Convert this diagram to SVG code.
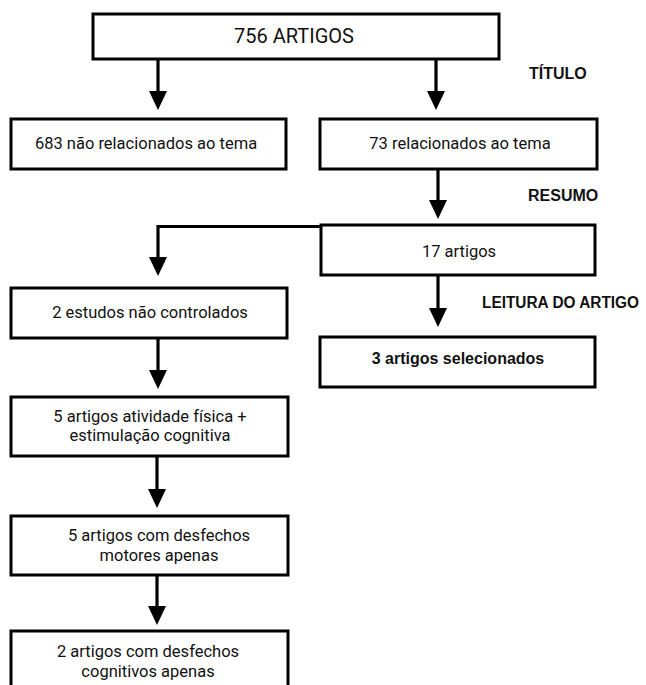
<svg xmlns="http://www.w3.org/2000/svg" width="646" height="685" viewBox="0 0 646 685">
<style>
.box{fill:#fff;stroke:#000;stroke-width:3}
.t{font-family:Roboto,"Liberation Sans",sans-serif;font-size:16.5px;fill:#111;text-anchor:middle}
.big{font-size:20px}
.lbl{font-family:"Liberation Sans",Arial,sans-serif;font-weight:bold;font-size:16px;fill:#111}
.b{font-family:"Liberation Sans",Arial,sans-serif;font-weight:bold;font-size:16px;fill:#111;text-anchor:middle}
.c{fill:none;stroke:#000;stroke-width:3.2}
</style>
<rect width="646" height="685" fill="#fff"/>
<g id="connectors">
<line class="c" x1="158" y1="59" x2="158" y2="91"/>
<path d="M149,91 L167,91 L158,110 Z"/>
<line class="c" x1="436" y1="59" x2="436" y2="91"/>
<path d="M427,91 L445,91 L436,110 Z"/>
<line class="c" x1="438" y1="169" x2="438" y2="200"/>
<path d="M429,200 L447,200 L438,219 Z"/>
<polyline class="c" points="321,226.5 158,226.5 158,258"/>
<path d="M149,257 L167,257 L158,276 Z"/>
<line class="c" x1="438" y1="275" x2="438" y2="308"/>
<path d="M429,308 L447,308 L438,327 Z"/>
<line class="c" x1="158" y1="338" x2="158" y2="371"/>
<path d="M149,370 L167,370 L158,389 Z"/>
<line class="c" x1="157" y1="456" x2="157" y2="490"/>
<path d="M148,489 L166,489 L157,508 Z"/>
<line class="c" x1="157" y1="575" x2="157" y2="607"/>
<path d="M148,606 L166,606 L157,625 Z"/>
</g>
<g id="n756">
<rect class="box" x="93" y="14" width="406" height="45"/>
<text class="t big" x="294" y="43">756 ARTIGOS</text>
</g>
<g id="n683">
<rect class="box" x="11" y="119" width="275" height="50"/>
<text class="t" x="146" y="149">683 não relacionados ao tema</text>
</g>
<g id="n73">
<rect class="box" x="320" y="119" width="277" height="50"/>
<text class="t" x="460" y="149">73 relacionados ao tema</text>
</g>
<g id="n17">
<rect class="box" x="321" y="225" width="274" height="50"/>
<text class="t" x="459" y="257">17 artigos</text>
</g>
<g id="n3sel">
<rect class="box" x="320" y="337" width="275" height="50"/>
<text class="b" x="458" y="364">3 artigos selecionados</text>
</g>
<g id="n2est">
<rect class="box" x="11" y="288" width="276" height="50"/>
<text class="t" x="150" y="318">2 estudos não controlados</text>
</g>
<g id="n5af">
<rect class="box" x="11" y="397" width="277" height="59"/>
<text class="t" x="150" y="422">5 artigos atividade física +</text>
<text class="t" x="150" y="441">estimulação cognitiva</text>
</g>
<g id="n5mot">
<rect class="box" x="11" y="516" width="277" height="59"/>
<text class="t" x="159" y="541">5 artigos com desfechos</text>
<text class="t" x="159" y="561">motores apenas</text>
</g>
<g id="n2cog">
<rect class="box" x="11" y="631" width="277" height="60"/>
<text class="t" x="148" y="657">2 artigos com desfechos</text>
<text class="t" x="148" y="677">cognitivos apenas</text>
</g>
<g id="labels">
<text class="lbl" x="529" y="79">TÍTULO</text>
<text class="lbl" x="528" y="201">RESUMO</text>
<text class="lbl" x="482" y="308" textLength="157" lengthAdjust="spacingAndGlyphs">LEITURA DO ARTIGO</text>
</g>
</svg>
